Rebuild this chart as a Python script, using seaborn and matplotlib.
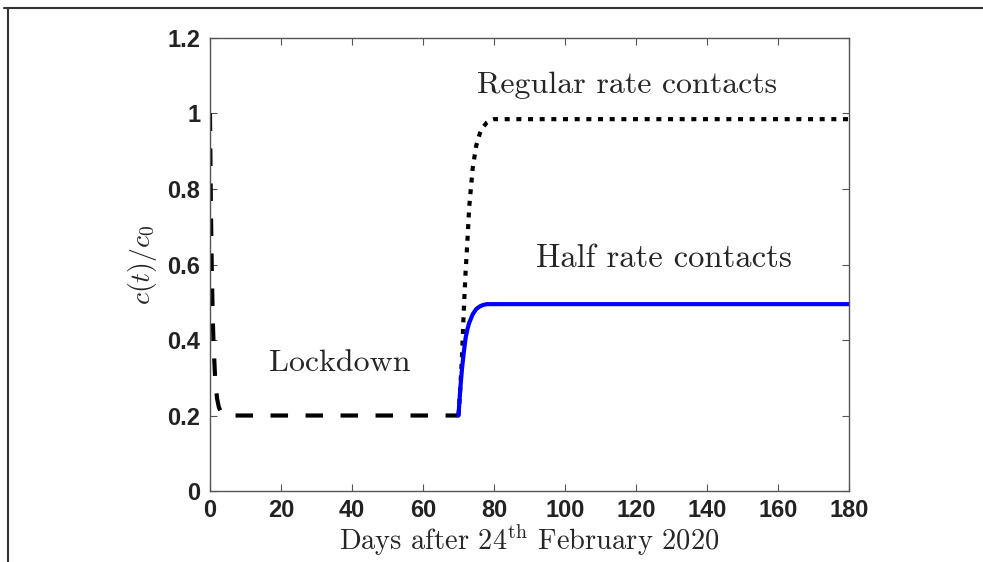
import matplotlib
matplotlib.use("Agg")
import matplotlib.pyplot as plt
from matplotlib.lines import Line2D
import seaborn as sns
import pandas as pd

# Lockdown phase: contact rate falls from c0 to 0.2 c0 and stays there until day 70
lock_t = [0, 0.25, 0.5, 0.75, 1, 1.5, 2, 2.5, 3, 3.5, 4, 5, 70]
lock_v = [1.0, 0.76, 0.59, 0.47, 0.39, 0.29, 0.245, 0.222, 0.211, 0.205, 0.202, 0.2, 0.2]

# Reopening to the regular contact rate
reg_t = [70, 70.5, 71, 71.5, 72, 72.5, 73, 74, 75, 76, 77, 78, 79, 80, 180]
reg_v = [0.2, 0.27, 0.36, 0.48, 0.58, 0.66, 0.75, 0.855, 0.915, 0.947, 0.965, 0.976, 0.982, 0.985, 0.985]

# Reopening to half the regular contact rate
half_t = [70, 70.5, 71, 71.5, 72, 72.5, 73, 74, 75, 76, 77, 78, 80, 180]
half_v = [0.2, 0.27, 0.325, 0.368, 0.405, 0.428, 0.445, 0.468, 0.482, 0.489, 0.493, 0.495, 0.495, 0.495]

x_ticks = [0, 20, 40, 60, 80, 100, 120, 140, 160, 180]
y_ticks = [0, 0.2, 0.4, 0.6, 0.8, 1.0, 1.2]
y_tick_labels = ["0", "0.2", "0.4", "0.6", "0.8", "1", "1.2"]

sns.set_style("ticks")
plt.rcParams["font.family"] = ["Liberation Sans", "DejaVu Sans"]
plt.rcParams["mathtext.fontset"] = "cm"

fig = plt.figure(figsize=(9.83, 5.62), dpi=100)
ax = fig.add_axes([0.2136, 0.1263, 0.6501, 0.8061])

lock_df = pd.DataFrame({"t": lock_t, "c": lock_v})
reg_df = pd.DataFrame({"t": reg_t, "c": reg_v})
half_df = pd.DataFrame({"t": half_t, "c": half_v})

sns.lineplot(data=lock_df, x="t", y="c", ax=ax, color="black", linewidth=3,
             sort=False, estimator=None)
ax.lines[-1].set_dashes([4.2, 4.2])
sns.lineplot(data=reg_df, x="t", y="c", ax=ax, color="black", linewidth=3,
             sort=False, estimator=None)
ax.lines[-1].set_dashes([1.2, 1.6])
sns.lineplot(data=half_df, x="t", y="c", ax=ax, color="#0000ff", linewidth=3,
             sort=False, estimator=None)

ax.set_xlim(0, 180)
ax.set_ylim(0, 1.2)
ax.set_xticks(x_ticks)
ax.set_xticklabels([str(v) for v in x_ticks])
ax.set_yticks(y_ticks)
ax.set_yticklabels(y_tick_labels)

for lab in ax.get_xticklabels() + ax.get_yticklabels():
    lab.set_fontweight("bold")
    lab.set_fontsize(17)
    lab.set_color("#222222")

ax.tick_params(direction="in", length=5, width=0.8, color="#555555",
               top=True, right=True)
ax.tick_params(axis="x", pad=6)
ax.tick_params(axis="y", pad=7)
for side in ["left", "right", "top", "bottom"]:
    ax.spines[side].set_visible(True)
    ax.spines[side].set_color("#555555")
    ax.spines[side].set_linewidth(1.0)

serif = {"family": "cmr10", "fontsize": 20.5}
ax.set_xlabel(r"Days after 24$^{\rm th}$ February 2020", fontdict=serif, labelpad=0)
ax.set_ylabel(r"$c(t)/c_0$", fontsize=20, labelpad=6)

ax.text(117.5, 1.055, "Regular rate contacts", fontdict=serif, fontsize=23,
        ha="center", va="baseline")
ax.text(128, 0.593, "Half rate contacts", fontdict=serif, fontsize=23.5,
        ha="center", va="baseline")
ax.text(36.5, 0.318, "Lockdown", fontdict=serif, fontsize=23,
        ha="center", va="baseline")

# Thin page frame along the top and left edges
fig.add_artist(Line2D([4 / 983, 1.0], [1 - 8 / 562, 1 - 8 / 562],
                      transform=fig.transFigure, color="#333333", linewidth=1.5))
fig.add_artist(Line2D([8 / 983, 8 / 983], [0.0, 1 - 8 / 562],
                      transform=fig.transFigure, color="#333333", linewidth=1.5))

fig.savefig("out.png", dpi=100)
